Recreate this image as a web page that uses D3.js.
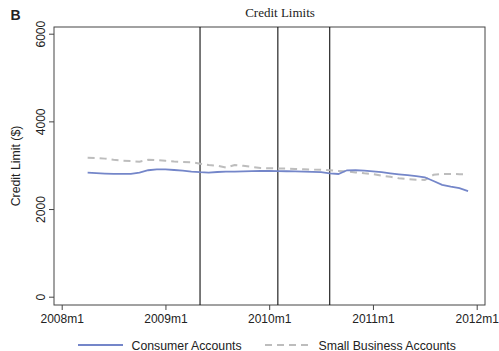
<!DOCTYPE html>
<html>
<head>
<meta charset="utf-8">
<script src="https://cdn.jsdelivr.net/npm/d3@7"></script>
<style>
  html, body { margin: 0; padding: 0; background: #fff; }
  svg { display: block; }
  text { font-family: "Liberation Sans", Arial, sans-serif; fill: #222; }
</style>
</head>
<body>
<svg id="chart" width="499" height="351"></svg>
<script>
// Months are counted from 2008m1 (= 0); series run 2008m4 .. 2011m12
const startMonth = 3;
const consumer = [
  2830, 2820, 2810, 2800, 2800, 2800, 2830, 2885, 2905, 2905,
  2890, 2875, 2855, 2840, 2830, 2845, 2852, 2855, 2860, 2865,
  2868, 2868, 2865, 2862, 2858, 2852, 2848, 2840, 2815, 2800,
  2884, 2885, 2875, 2860, 2840, 2815, 2792, 2772, 2752, 2725,
  2640, 2550, 2510, 2475, 2410
];
const smallBusiness = [
  3171, 3165, 3150, 3125, 3105, 3095, 3080, 3125, 3115, 3100,
  3085, 3075, 3068, 3035, 3005, 2990, 2945, 3005, 2985, 2960,
  2935, 2930, 2925, 2925, 2915, 2907, 2900, 2895, 2885, 2870,
  2858, 2835, 2815, 2800, 2760, 2735, 2700, 2685, 2670, 2663,
  2780, 2800, 2800, 2795, 2792
];
const eventMonths = [16, 25, 31];          // 2009m5, 2010m2, 2010m8
const xTickMonths = [0, 12, 24, 36, 48];
const xTickLabels = ["2008m1", "2009m1", "2010m1", "2011m1", "2012m1"];
const yTicks = [0, 2000, 4000, 6000];
const seriesNames = ["Consumer Accounts", "Small Business Accounts"];

const svg = d3.select("#chart");
const frame = { left: 54, right: 485, top: 27, bottom: 305 };

const x = d3.scaleLinear().domain([0, 48]).range([61.7, 476.7]);
const y = d3.scaleLinear().domain([0, 6000]).range([296.7, 33.7]);

// title and panel letter
svg.append("text").attr("x", 10.5).attr("y", 19.5)
  .style("font-weight", "bold").style("font-size", "14px").text("B");
svg.append("text").attr("x", 280).attr("y", 17).attr("text-anchor", "middle")
  .style("font-family", "'Liberation Serif', 'Times New Roman', serif")
  .style("font-size", "13px").text("Credit Limits");

// plot frame
svg.append("rect")
  .attr("x", frame.left).attr("y", frame.top)
  .attr("width", frame.right - frame.left).attr("height", frame.bottom - frame.top)
  .attr("fill", "none").attr("stroke", "#444").attr("stroke-width", 1);

// y axis
const yAxis = d3.axisLeft(y).tickValues(yTicks).tickSize(5).tickFormat(d3.format("d"));
const gy = svg.append("g").attr("transform", `translate(${frame.left},0)`).call(yAxis);
gy.select(".domain").remove();
gy.selectAll(".tick line").attr("stroke", "#444");
gy.selectAll(".tick text")
  .attr("x", null).attr("dy", null)
  .attr("transform", "translate(-9.5,0) rotate(-90)")
  .attr("text-anchor", "middle")
  .style("font-size", "12px").style("font-family", "'Liberation Sans', Arial, sans-serif")
  .attr("fill", "#222");

svg.append("text")
  .attr("transform", `translate(20,${(frame.top + frame.bottom) / 2}) rotate(-90)`)
  .attr("text-anchor", "middle").style("font-size", "12.3px")
  .text("Credit Limit ($)");

// x axis
const xAxis = d3.axisBottom(x).tickValues(xTickMonths).tickSize(5)
  .tickFormat((d, i) => xTickLabels[i]);
const gx = svg.append("g").attr("transform", `translate(0,${frame.bottom})`).call(xAxis);
gx.select(".domain").remove();
gx.selectAll(".tick line").attr("stroke", "#444");
gx.selectAll(".tick text")
  .attr("y", 9).attr("dy", "0.71em")
  .style("font-size", "12px").style("font-family", "'Liberation Sans', Arial, sans-serif")
  .attr("fill", "#222");

// event lines
svg.selectAll("line.event").data(eventMonths).enter().append("line")
  .attr("class", "event")
  .attr("x1", d => x(d)).attr("x2", d => x(d))
  .attr("y1", frame.top).attr("y2", frame.bottom)
  .attr("stroke", "#111").attr("stroke-width", 1.1);

// series
const line = d3.line().x((d, i) => x(startMonth + i)).y(d => y(d));

svg.append("path").datum(smallBusiness)
  .attr("d", line).attr("fill", "none")
  .attr("stroke", "#bdbdbd").attr("stroke-width", 2)
  .attr("stroke-dasharray", "7,5");

svg.append("path").datum(consumer)
  .attr("d", line).attr("fill", "none")
  .attr("stroke", "#7486c9").attr("stroke-width", 1.8);

// legend
const legY = 345;
svg.append("line").attr("x1", 78).attr("x2", 123).attr("y1", legY).attr("y2", legY)
  .attr("stroke", "#7486c9").attr("stroke-width", 1.8);
svg.append("text").attr("x", 131.5).attr("y", legY + 4.5)
  .style("font-size", "12.3px").text(seriesNames[0]);
svg.append("line").attr("x1", 265).attr("x2", 312).attr("y1", legY).attr("y2", legY)
  .attr("stroke", "#bdbdbd").attr("stroke-width", 2).attr("stroke-dasharray", "7,5");
svg.append("text").attr("x", 318.5).attr("y", legY + 4.5)
  .style("font-size", "12.3px").text(seriesNames[1]);
</script>
</body>
</html>
